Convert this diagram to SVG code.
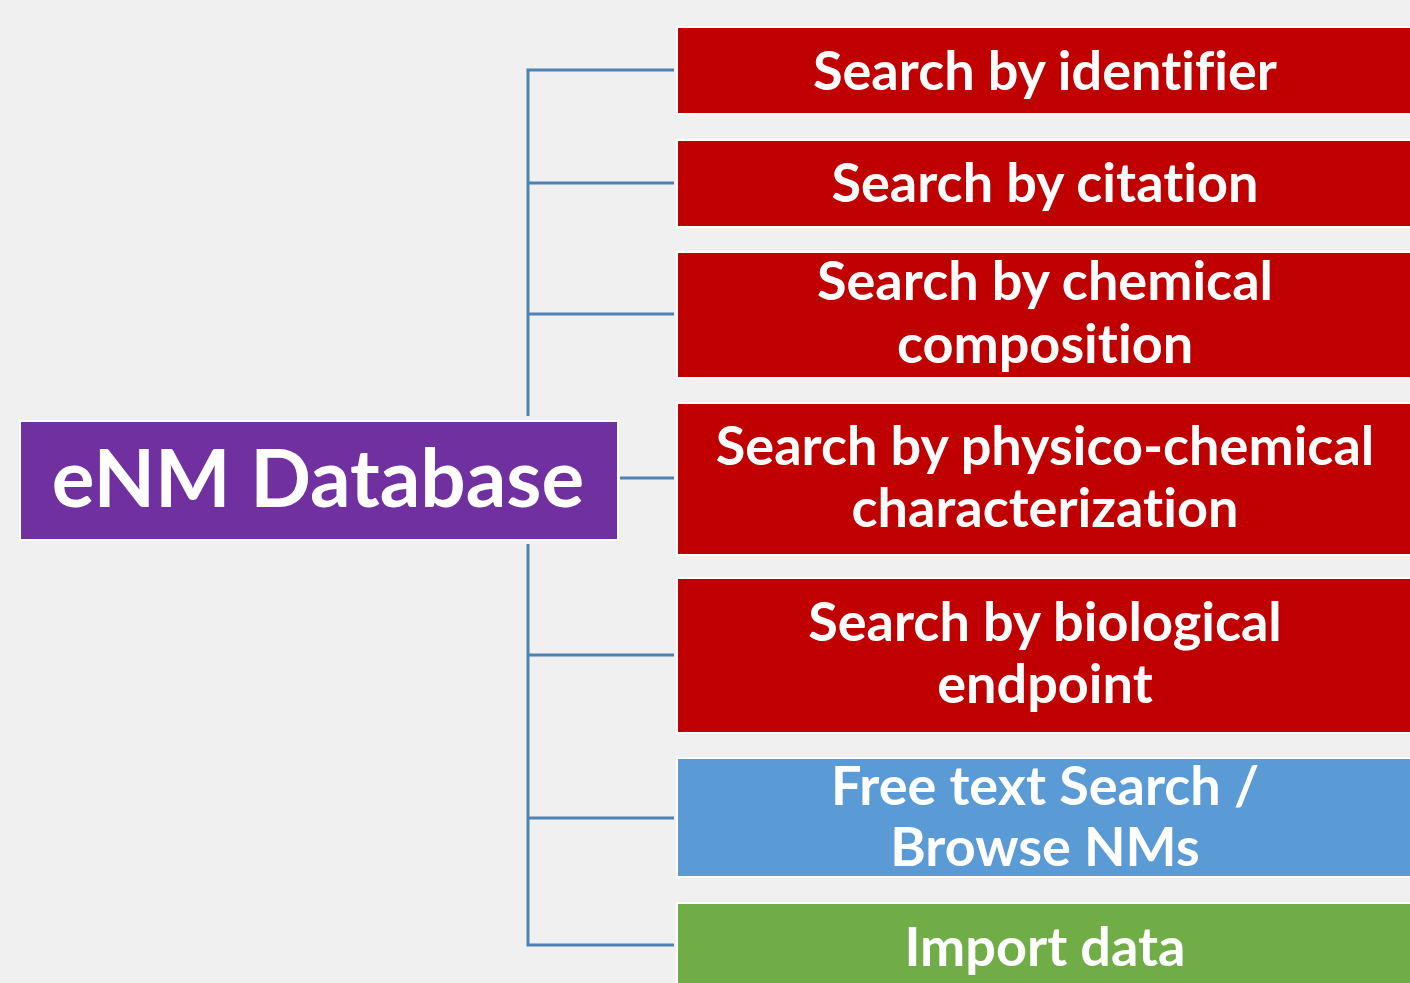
<svg xmlns="http://www.w3.org/2000/svg" width="1410" height="983" viewBox="0 0 1410 983">
<style>
.bg{fill:#f0f0f0}
.box{stroke:#ffffff;stroke-width:2}
.red{fill:#c00000}
.blue{fill:#5b9bd5}
.green{fill:#70ad47}
.purple{fill:#7030a0}
.lbl{font-family:Lato,"Liberation Sans",sans-serif;font-weight:bold;fill:#ffffff;text-anchor:middle;font-size:54px;font-variant-ligatures:none;font-feature-settings:"liga" 0,"clig" 0,"dlig" 0}
.big{font-size:80px}
.conn{fill:none;stroke:#4f81b3;stroke-width:3}
</style>
<rect class="bg" x="0" y="0" width="1410" height="983"/>
<g id="connectors">
<path class="conn" d="M674 70H528V416M528 544V945H674M528 183H674M528 314H674M528 655H674M528 818H674M620 478H674"/>
</g>
<g id="enm">
<rect class="box purple" x="20" y="421" width="598" height="119"/>
<text class="lbl big" x="318" y="507">eNM Database</text>
</g>
<g id="n1">
<rect class="box red" x="677" y="27" width="740" height="87"/>
<text class="lbl" x="1045" y="90">Search by identifier</text>
</g>
<g id="n2">
<rect class="box red" x="677" y="140" width="740" height="87"/>
<text class="lbl" x="1045" y="202">Search by citation</text>
</g>
<g id="n3">
<rect class="box red" x="677" y="252" width="740" height="126"/>
<text class="lbl" x="1045" y="300">Search by chemical</text>
<text class="lbl" x="1045" y="363">composition</text>
</g>
<g id="n4">
<rect class="box red" x="677" y="403" width="740" height="152"/>
<text class="lbl" x="1045" y="465">Search by physico-chemical</text>
<text class="lbl" x="1045" y="527">characterization</text>
</g>
<g id="n5">
<rect class="box red" x="677" y="578" width="740" height="155"/>
<text class="lbl" x="1045" y="641">Search by biological</text>
<text class="lbl" x="1045" y="703">endpoint</text>
</g>
<g id="n6">
<rect class="box blue" x="677" y="758" width="740" height="119"/>
<text class="lbl" x="1045" y="805">Free text Search /</text>
<text class="lbl" x="1045" y="866">Browse NMs</text>
</g>
<g id="n7">
<rect class="box green" x="677" y="903" width="740" height="100"/>
<text class="lbl" x="1045" y="966">Import data</text>
</g>
</svg>
